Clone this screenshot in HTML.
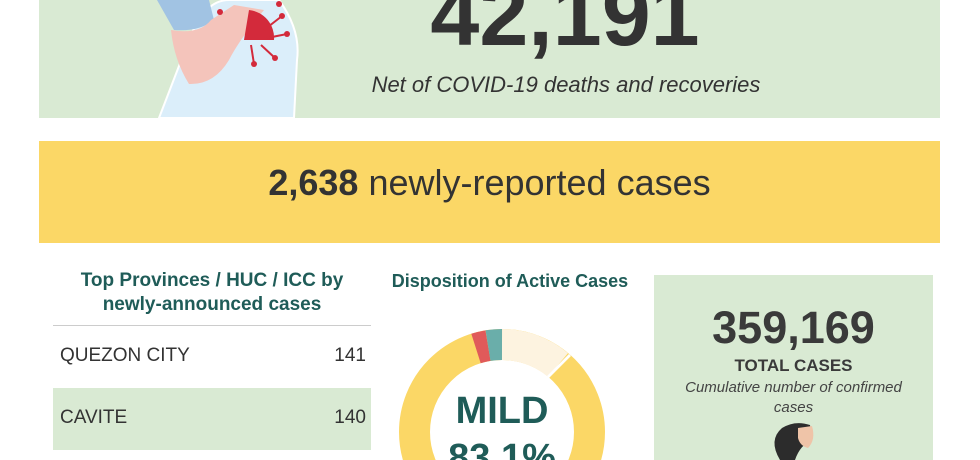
<!DOCTYPE html>
<html><head><meta charset="utf-8"><style>
body{margin:0;width:980px;height:460px;overflow:hidden;background:#fff;font-family:"Liberation Sans",sans-serif;position:relative}
.a{position:absolute}
</style></head><body>
<div class="a" style="left:39px;top:0;width:901px;height:118px;background:#d9ead3"></div>
<svg class="a" style="left:39px;top:0" width="300" height="120">
<path d="M120 118 L150 40 Q165 0 190 0 L240 0 Q262 30 258 60 L255 118 Z" fill="#dbeefa" stroke="#fff" stroke-width="2"/>
<path d="M118 0 L170 0 L175 20 Q160 32 135 30 Z" fill="#a1c3e3"/>
<path d="M132 30 Q160 35 172 20 L195 5 L225 10 Q200 40 190 60 Q175 85 150 84 Q135 60 132 30Z" fill="#f4c4bb"/>
<path d="M210 10 A28 28 0 0 1 235 40 L205 40Z" fill="#d32a3b"/>
<g stroke="#d32a3b" stroke-width="2"><line x1="225" y1="30" x2="243" y2="16"/><line x1="228" y1="38" x2="248" y2="34"/><line x1="222" y1="45" x2="236" y2="58"/><line x1="212" y1="45" x2="215" y2="64"/></g>
<g fill="#d32a3b"><circle cx="243" cy="16" r="3"/><circle cx="248" cy="34" r="3"/><circle cx="236" cy="58" r="3"/><circle cx="215" cy="64" r="3"/><circle cx="240" cy="4" r="3"/><circle cx="181" cy="12" r="3"/></g>
</svg>
<div class="a" style="left:380px;top:-30px;width:370px;height:90px;overflow:hidden;text-align:center;font-size:88px;font-weight:bold;color:#333;line-height:90px">42,191</div>
<div class="a" style="left:320px;top:72px;width:492px;text-align:center;font-size:22px;font-style:italic;color:#333">Net of COVID-19 deaths and recoveries</div>
<div class="a" style="left:39px;top:141px;width:901px;height:102px;background:#fbd766"></div>
<div class="a" style="left:39px;top:162px;width:901px;text-align:center;font-size:36px;color:#333"><b>2,638</b> newly-reported cases</div>
<div class="a" style="left:53px;top:269px;width:318px;text-align:center;font-size:19px;font-weight:bold;color:#1f5c58;line-height:24px">Top Provinces / HUC / ICC by<br>newly-announced cases</div>
<div class="a" style="left:53px;top:325px;width:318px;height:1px;background:#ccc"></div>
<div class="a" style="left:60px;top:345px;font-size:19px;color:#333">QUEZON CITY</div>
<div class="a" style="left:300px;top:345px;width:66px;text-align:right;font-size:19px;color:#333">141</div>
<div class="a" style="left:53px;top:388px;width:318px;height:62px;background:#d9ead3"></div>
<div class="a" style="left:60px;top:407px;font-size:19px;color:#333">CAVITE</div>
<div class="a" style="left:300px;top:407px;width:66px;text-align:right;font-size:19px;color:#333">140</div>
<div class="a" style="left:380px;top:271px;width:260px;text-align:center;font-size:18px;font-weight:bold;color:#1f5c58">Disposition of Active Cases</div>
<svg class="a" style="left:380px;top:310px" width="250" height="150">
<g transform="translate(122,122)" fill="none" stroke-width="31">
<circle r="87.5" stroke="#fbd766"/>
<path d="M0 -87.5 A87.5 87.5 0 0 1 56 -67" stroke="#fdf3e0"/>
<path d="M56 -67 L58 -65" stroke="#fff" stroke-width="31"/>
<path d="M-26 -83.5 A87.5 87.5 0 0 1 -14 -86.4" stroke="#e05a5a"/>
<path d="M-14 -86.4 A87.5 87.5 0 0 1 0 -87.5" stroke="#6aaeaa"/>
</g>
<text x="122" y="113" text-anchor="middle" font-family="Liberation Sans" font-weight="bold" font-size="38" fill="#1f5c58">MILD</text>
<text x="122" y="160" text-anchor="middle" font-family="Liberation Sans" font-weight="bold" font-size="38" fill="#1f5c58">83.1%</text>
</svg>
<div class="a" style="left:654px;top:275px;width:279px;height:185px;background:#d9ead3"></div>
<div class="a" style="left:654px;top:302px;width:279px;text-align:center;font-size:45px;font-weight:bold;color:#3a3a3a">359,169</div>
<div class="a" style="left:654px;top:356px;width:279px;text-align:center;font-size:17px;font-weight:bold;color:#3a3a3a">TOTAL CASES</div>
<div class="a" style="left:664px;top:378px;width:259px;text-align:center;font-size:15px;font-style:italic;color:#444;line-height:20px">Cumulative number of confirmed cases</div>
<svg class="a" style="left:740px;top:420px" width="90" height="40">
<path d="M40 40 Q28 20 42 8 Q55 0 70 5 L72 20 Q60 25 55 40Z" fill="#2c2c2c"/>
<path d="M58 8 L72 6 Q76 20 68 28 Q60 26 58 18Z" fill="#efc4a8"/>
</svg>
</body></html>
